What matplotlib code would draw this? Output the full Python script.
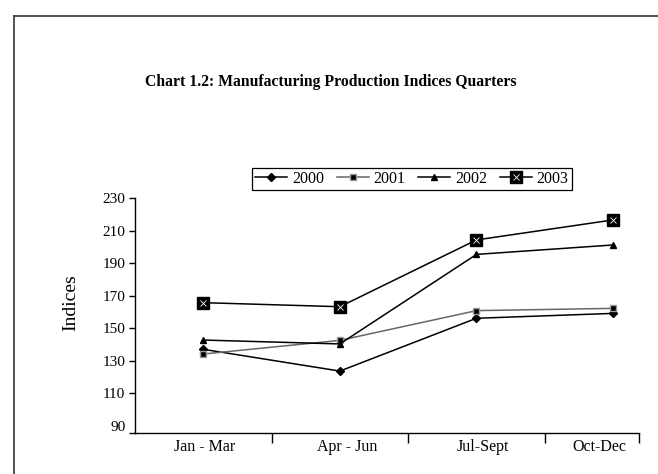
import matplotlib
matplotlib.use("Agg")
import matplotlib.pyplot as plt
from matplotlib.lines import Line2D
from matplotlib.legend_handler import HandlerTuple

plt.rcParams['font.family'] = ['Liberation Serif', 'DejaVu Serif']

quarters = ["Jan - Mar", "Apr - Jun", "Jul-Sept", "Oct-Dec"]
years = ["2000", "2001", "2002", "2003"]
v2000 = [136.9, 123.5, 156.0, 159.0]
v2001 = [134.0, 142.4, 160.7, 162.1]
v2002 = [142.6, 140.2, 195.3, 201.1]
v2003 = [165.6, 163.1, 204.2, 216.5]
yticks = [90, 110, 130, 150, 170, 190, 210, 230]

W, H = 658, 474
fig = plt.figure(figsize=(W / 100, H / 100), dpi=100)
ax = fig.add_axes([135 / W, 1 - 433 / H, (639 - 135) / W, (433 - 198) / H])

x = list(range(len(quarters)))
l0, = ax.plot(x, v2000, color='black', lw=1.1, marker='D', ms=4, mfc='black', mec='black')
l1, = ax.plot(x, v2001, color='#666666', lw=1.1, marker='s', ms=5, mfc='black', mec='#999999', mew=1.0)
l2, = ax.plot(x, v2002, color='black', lw=1.1, marker='^', ms=5, mfc='black', mec='black')
l3, = ax.plot(x, v2003, color='black', lw=1.1, marker='s', ms=9, mfc='black', mec='black')
l3x, = ax.plot(x, v2003, linestyle='none', marker='x', ms=5, mec='white', mew=0.6)

ymin = 85.4
ax.set_ylim(ymin, 230)
ax.set_xlim(-0.5, 3.19)

for s in ['top', 'right']:
    ax.spines[s].set_visible(False)
for s in ['left', 'bottom']:
    ax.spines[s].set_linewidth(1.0)

ax.set_yticks(yticks)
ax.set_yticklabels([str(t) for t in yticks], fontsize=11)
ax.tick_params(axis='y', direction='out', length=4, width=1.0, pad=3)
ax.yaxis.get_major_ticks()[0].tick1line.set_visible(False)
ax.set_yticks([ymin], minor=True)
ax.tick_params(axis='y', which='minor', direction='out', length=4, width=1.0)

ax.set_xticks([0.5, 1.5, 2.5, 3.19])
ax.set_xticklabels([])
ax.tick_params(axis='x', direction='out', length=7, width=1.0)
label_pos = [0.01, 1.05, 2.05, 2.9]
for p, q in zip(label_pos, quarters):
    ax.text(p, -0.06, q, transform=ax.get_xaxis_transform(), ha='center', va='center', fontsize=11.5)

fig.text(71 / W, 1 - 303 / H, "Indices", rotation=90, ha='center', va='center', fontsize=14)
fig.text(331 / W, 1 - 82 / H, "Chart 1.2: Manufacturing Production Indices Quarters",
         ha='center', va='center', fontsize=11.3, fontweight='bold')

leg = fig.legend([l0, l1, l2, (l3, l3x)], years, ncol=4, loc='center',
                 bbox_to_anchor=(412 / W, 1 - 179 / H), fontsize=11.5,
                 frameon=True, fancybox=False, edgecolor='black', framealpha=1,
                 handlelength=2.0, handletextpad=0.3, columnspacing=0.8,
                 borderpad=0.2, handler_map={tuple: HandlerTuple(ndivide=1)})
leg.get_frame().set_linewidth(0.9)

fig.add_artist(Line2D([14 / W, 14 / W], [0, 1 - 16 / H], color='#444444', lw=1.3, transform=fig.transFigure))
fig.add_artist(Line2D([14 / W, 1], [1 - 16 / H, 1 - 16 / H], color='#444444', lw=1.3, transform=fig.transFigure))

fig.savefig("out.png", dpi=100)
